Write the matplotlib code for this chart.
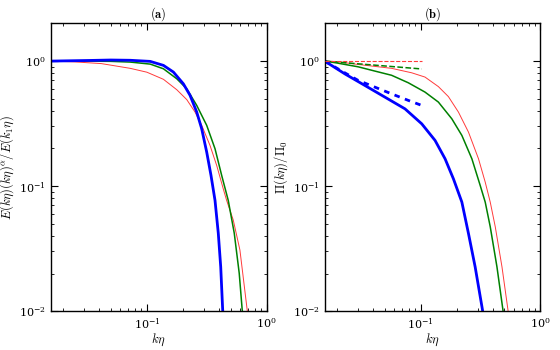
import matplotlib
matplotlib.use("Agg")
import matplotlib.pyplot as plt

plt.rcParams['mathtext.fontset'] = 'cm'
plt.rcParams['font.family'] = ['DejaVu Serif']
plt.rcParams['font.size'] = 8

# panel (a): compensated spectra
a_red_x = [0.01596, 0.025, 0.0416, 0.0726, 0.1, 0.1375, 0.1778, 0.2154, 0.2526, 0.2872,
           0.3369, 0.3831, 0.4347, 0.4642, 0.527, 0.599, 0.689, 0.70]
a_red_y = [1.0, 0.985, 0.955, 0.875, 0.815, 0.715, 0.59, 0.492, 0.391, 0.306,
           0.2116, 0.1464, 0.0951, 0.0768, 0.0535, 0.0308, 0.0102, 0.0095]
a_green_x = [0.01596, 0.03, 0.05, 0.0726, 0.1066, 0.1375, 0.1778, 0.2154, 0.261, 0.3162,
             0.371, 0.4217, 0.4786, 0.537, 0.591, 0.626, 0.632]
a_green_y = [1.0, 1.0, 0.995, 0.982, 0.946, 0.868, 0.722, 0.600, 0.442, 0.306,
             0.199, 0.1218, 0.0768, 0.0421, 0.0201, 0.0102, 0.0095]
a_blue_x = [0.01596, 0.0337, 0.05, 0.0726, 0.1066, 0.1375, 0.1666, 0.2018, 0.2295, 0.261,
            0.2872, 0.3162, 0.3434, 0.371, 0.395, 0.414, 0.43, 0.433]
a_blue_y = [1.0, 1.012, 1.02, 1.015, 0.9945, 0.924, 0.817, 0.658, 0.532, 0.391,
            0.2873, 0.187, 0.1218, 0.0768, 0.0421, 0.0226, 0.0102, 0.0095]

# panel (b): normalised flux
b_red_x = [0.01578, 0.02, 0.030, 0.0571, 0.0841, 0.1086, 0.1405, 0.1703, 0.2066, 0.2506,
           0.304, 0.3459, 0.381, 0.4196, 0.4775, 0.536, 0.541]
b_red_y = [1.0, 0.99, 0.94, 0.875, 0.806, 0.745, 0.625, 0.52, 0.391, 0.2704,
           0.1654, 0.1076, 0.0745, 0.0473, 0.0226, 0.0102, 0.0095]
b_green_x = [0.01578, 0.02, 0.030, 0.0414, 0.0571, 0.0787, 0.1086, 0.1405, 0.1819, 0.2207,
             0.2676, 0.314, 0.3459, 0.381, 0.4335, 0.4866, 0.491]
b_green_y = [1.0, 0.965, 0.9, 0.832, 0.77, 0.671, 0.565, 0.47, 0.3455, 0.2544,
             0.1654, 0.1013, 0.0745, 0.0473, 0.0226, 0.0102, 0.0095]
b_blue_x = [0.01578, 0.0232, 0.0341, 0.0502, 0.0739, 0.102, 0.1318, 0.1598, 0.1876, 0.2207,
            0.2506, 0.285, 0.3284, 0.331]
b_blue_y = [1.0, 0.791, 0.639, 0.515, 0.415, 0.315, 0.232, 0.1654, 0.1144, 0.0745,
            0.0418, 0.0226, 0.0102, 0.0095]

# dashed reference lines in (b)
b_red_dash_x = [0.01578, 0.102]
b_red_dash_y = [1.0, 1.0]
b_green_dash_x = [0.01578, 0.102]
b_green_dash_y = [1.0, 0.865]
b_blue_dash_x = [0.01578, 0.0232, 0.030, 0.0414, 0.0571, 0.0787, 0.102]
b_blue_dash_y = [1.0, 0.806, 0.701, 0.619, 0.547, 0.485, 0.442]

RED = '#ff3a3a'


def style_axes(ax):
    ax.set_xscale('log')
    ax.set_yscale('log')
    ax.set_xlim(0.0158, 1.0)
    ax.set_ylim(0.01, 2.0)
    ax.tick_params(which='both', direction='in', top=True, right=True, labelsize=8)
    ax.tick_params(which='major', length=5)
    ax.tick_params(which='minor', length=2.5)
    for s in ax.spines.values():
        s.set_linewidth(1.0)
    ax.set_xlabel(r'$k\eta$', fontsize=9, labelpad=1)


fig = plt.figure(figsize=(5.6, 3.5), dpi=100)
ax1 = fig.add_axes([0.091, 0.111, 0.385, 0.822])
ax2 = fig.add_axes([0.580, 0.111, 0.385, 0.822])

ax1.plot(a_red_x, a_red_y, color=RED, lw=0.7)
ax1.plot(a_green_x, a_green_y, color='green', lw=1.1)
ax1.plot(a_blue_x, a_blue_y, color='blue', lw=2.0)
style_axes(ax1)
ax1.set_ylabel(r'$E(k\eta)(k\eta)^\alpha/E(k_1\eta)$', fontsize=9, labelpad=2)
ax1.set_title(r'$\mathbf{(a)}$', fontsize=9, pad=3)

ax2.plot(b_red_x, b_red_y, color=RED, lw=0.7)
ax2.plot(b_green_x, b_green_y, color='green', lw=1.1)
ax2.plot(b_blue_x, b_blue_y, color='blue', lw=2.0)
ax2.plot(b_red_dash_x, b_red_dash_y, color=RED, lw=0.8, ls='--', zorder=3)
ax2.plot(b_green_dash_x, b_green_dash_y, color='green', lw=1.1, ls='--')
ax2.plot(b_blue_dash_x, b_blue_dash_y, color='blue', lw=2.0, ls='--', dashes=(2, 2))
style_axes(ax2)
ax2.set_ylabel(r'$\Pi(k\eta)/\Pi_0$', fontsize=9, labelpad=2)
ax2.set_title(r'$\mathbf{(b)}$', fontsize=9, pad=3)

fig.savefig('out.png', dpi=100)
